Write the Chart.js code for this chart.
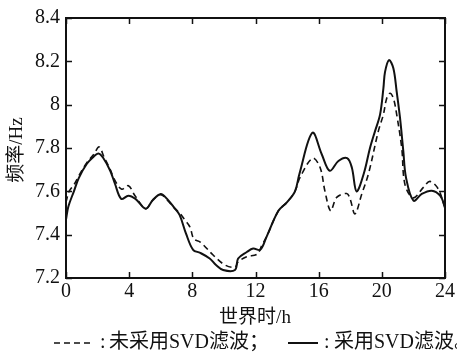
<!DOCTYPE html>
<html>
<head>
<meta charset="utf-8">
<script src="https://cdn.jsdelivr.net/npm/chart.js@4/dist/chart.umd.min.js"></script>
<style>
  html, body { margin: 0; padding: 0; background: #fff; }
  #wrap { position: relative; width: 457px; height: 353px; overflow: hidden; }
</style>
</head>
<body>
<div id="wrap"><canvas id="c" width="457" height="353"></canvas></div>
<script>
// Universal time (h) and frequency (Hz), without SVD filtering (dashed)
const hoursRaw = [0, 0.2, 0.5, 0.8, 1.3, 1.75, 2.1, 2.4, 2.8, 3.1, 3.53, 3.95, 4.37, 5.05, 5.5, 6.0, 6.4, 6.9, 7.2, 7.54, 7.85, 8.1, 8.5, 9.33, 10.07, 10.7, 10.91, 11.44, 12.1, 12.4, 12.7, 13.45, 14.0, 14.5, 14.82, 15.62, 16.09, 16.4, 16.76, 17.14, 17.78, 17.99, 18.3, 18.73, 19.15, 19.78, 20.1, 20.31, 20.52, 20.73, 20.94, 21.26, 21.47, 22.0, 22.63, 23.05, 23.58, 24];
const freqRaw  = [7.55, 7.60, 7.63, 7.67, 7.73, 7.77, 7.805, 7.76, 7.70, 7.65, 7.61, 7.626, 7.58, 7.52, 7.56, 7.585, 7.56, 7.52, 7.50, 7.466, 7.435, 7.38, 7.366, 7.305, 7.26, 7.25, 7.275, 7.298, 7.31, 7.35, 7.39, 7.51, 7.55, 7.60, 7.664, 7.753, 7.71, 7.60, 7.51, 7.572, 7.59, 7.565, 7.496, 7.588, 7.68, 7.878, 7.955, 8.03, 8.053, 8.03, 7.955, 7.80, 7.63, 7.57, 7.618, 7.646, 7.61, 7.52];

// Universal time (h) and frequency (Hz), with SVD filtering (solid)
const hoursSvd = [0, 0.15, 0.5, 0.8, 1.3, 1.75, 2.05, 2.35, 2.8, 3.1, 3.5, 3.95, 4.4, 5.05, 5.5, 6.0, 6.4, 6.9, 7.2, 7.6, 8.05, 8.5, 9.1, 9.5, 9.95, 10.7, 10.9, 11.45, 11.85, 12.3, 12.7, 13.45, 14.0, 14.5, 14.78, 15.6, 16.2, 16.7, 17.25, 17.8, 18.1, 18.4, 18.85, 19.25, 19.57, 19.89, 20.1, 20.2, 20.45, 20.73, 20.94, 21.15, 21.36, 21.53, 22.0, 22.53, 23.16, 23.69, 24];
const freqSvd  = [7.47, 7.53, 7.60, 7.66, 7.725, 7.76, 7.775, 7.755, 7.695, 7.635, 7.565, 7.58, 7.565, 7.52, 7.56, 7.588, 7.565, 7.52, 7.49, 7.405, 7.33, 7.316, 7.29, 7.26, 7.237, 7.237, 7.29, 7.32, 7.336, 7.33, 7.39, 7.51, 7.55, 7.60, 7.68, 7.87, 7.77, 7.695, 7.74, 7.753, 7.71, 7.60, 7.68, 7.80, 7.878, 7.955, 8.076, 8.15, 8.206, 8.168, 8.06, 7.94, 7.786, 7.664, 7.557, 7.588, 7.603, 7.58, 7.53];

// Axis ticks and text
const xTicks = [0, 4, 8, 12, 16, 20, 24];
const yTicks = [7.2, 7.4, 7.6, 7.8, 8.0, 8.2, 8.4];
const xTitle = '世界时/h';
const yTitle = '频率/Hz';
const seriesNames = ['未采用SVD滤波', '采用SVD滤波'];

const SERIF = '"Liberation Serif", "Times New Roman", "Noto Sans CJK SC", serif';
const INK = '#111';

const toPoints = (xs, ys) => xs.map((x, i) => ({ x, y: ys[i] }));

// Frame, inward ticks on all four sides, axis titles and the caption line
const decorPlugin = {
  id: 'decor',
  afterDatasetsDraw(chart) {
    const { ctx, chartArea: a, scales } = chart;
    const sx = scales.x, sy = scales.y;
    ctx.save();
    ctx.strokeStyle = INK;
    ctx.lineWidth = 2;
    ctx.strokeRect(a.left, a.top, a.right - a.left, a.bottom - a.top);
    ctx.lineWidth = 1.5;
    const tl = 6;
    ctx.beginPath();
    xTicks.forEach(v => {
      const px = Math.round(sx.getPixelForValue(v)) + 0.5;
      ctx.moveTo(px, a.bottom); ctx.lineTo(px, a.bottom - tl);
      ctx.moveTo(px, a.top); ctx.lineTo(px, a.top + tl);
    });
    yTicks.forEach(v => {
      const py = Math.round(sy.getPixelForValue(v)) + 0.5;
      ctx.moveTo(a.left, py); ctx.lineTo(a.left + tl, py);
      ctx.moveTo(a.right, py); ctx.lineTo(a.right - tl, py);
    });
    ctx.stroke();

    ctx.fillStyle = INK;
    // x axis title
    ctx.font = '19px ' + SERIF;
    ctx.textAlign = 'center';
    ctx.textBaseline = 'middle';
    ctx.fillText(xTitle, 255, 318);
    // y axis title
    ctx.save();
    ctx.translate(17, 150);
    ctx.rotate(-Math.PI / 2);
    ctx.fillText(yTitle, 0, 0);
    ctx.restore();

    // caption: line samples use each dataset's own stroke style
    const cy = 343;
    ctx.font = '20px ' + SERIF;
    ctx.textAlign = 'left';
    const ds = chart.data.datasets;
    const sample = (d, x0, x1) => {
      ctx.save();
      ctx.strokeStyle = d.borderColor;
      ctx.lineWidth = d.borderWidth;
      ctx.setLineDash(d.borderDash || []);
      ctx.beginPath();
      ctx.moveTo(x0, cy); ctx.lineTo(x1, cy);
      ctx.stroke();
      ctx.restore();
    };
    sample(ds[0], 54, 94);
    ctx.fillText(':', 100, cy);
    ctx.fillText(seriesNames[0] + '；', 109, cy);
    sample(ds[1], 288, 318);
    ctx.fillText(':', 324, cy);
    ctx.fillText(seriesNames[1] + '。', 334, cy);
    ctx.restore();
  }
};

new Chart(document.getElementById('c'), {
  type: 'line',
  data: {
    datasets: [
      {
        label: seriesNames[0],
        data: toPoints(hoursRaw, freqRaw),
        borderColor: INK,
        borderWidth: 1.6,
        borderDash: [6, 4],
        pointRadius: 0,
        tension: 0.35,
        fill: false
      },
      {
        label: seriesNames[1],
        data: toPoints(hoursSvd, freqSvd),
        borderColor: INK,
        borderWidth: 2,
        pointRadius: 0,
        tension: 0.35,
        fill: false
      }
    ]
  },
  options: {
    responsive: false,
    animation: false,
    devicePixelRatio: 1,
    layout: { padding: { top: 16, right: 12, left: 0, bottom: 0 } },
    plugins: { legend: { display: false }, tooltip: { enabled: false } },
    scales: {
      x: {
        type: 'linear',
        min: 0, max: 24,
        afterBuildTicks: s => { s.ticks = xTicks.map(v => ({ value: v })); },
        afterFit: s => { s.height = 75; },
        grid: { display: false, drawTicks: false },
        border: { display: false },
        ticks: { color: INK, font: { family: SERIF, size: 20 }, padding: 2, maxRotation: 0 }
      },
      y: {
        type: 'linear',
        min: 7.2, max: 8.4,
        afterBuildTicks: s => { s.ticks = yTicks.map(v => ({ value: v })); },
        afterFit: s => { s.width = 66; },
        grid: { display: false, drawTicks: false },
        border: { display: false },
        ticks: {
          color: INK, font: { family: SERIF, size: 20 }, padding: 6,
          callback: v => String(Math.round(v * 10) / 10)
        }
      }
    }
  },
  plugins: [decorPlugin]
});
</script>
</body>
</html>
